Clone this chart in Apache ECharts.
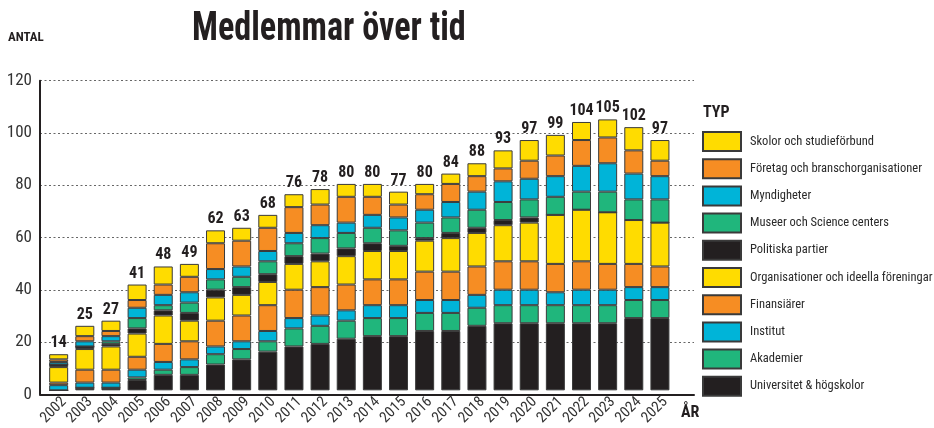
<!DOCTYPE html>
<html>
<head>
<meta charset="utf-8">
<script src="https://cdn.jsdelivr.net/npm/echarts@6/dist/echarts.min.js"></script>
<style>html,body{margin:0;padding:0;background:#fff;}#c{width:934px;height:428px;}</style>
</head>
<body>
<div id="c"></div>
<script>
const years = ['2002','2003','2004','2005','2006','2007','2008','2009','2010','2011','2012','2013','2014','2015','2016','2017','2018','2019','2020','2021','2022','2023','2024','2025'];
const totals = [14,25,27,41,48,49,62,63,68,76,78,80,80,77,80,84,88,93,97,99,104,105,102,97];
const universitet = [0,1,1,4,6,6,10,12,15,17,18,20,21,21,23,23,25,26,26,26,26,26,28,28];
const akademier = [0,0,0,1,2,3,4,4,4,7,7,7,7,7,7,7,7,7,7,7,7,7,7,7];
const institut = [2,2,2,3,3,3,3,3,4,4,4,4,5,5,5,5,5,6,6,5,6,6,5,5];
const finansiarer = [1,5,5,5,7,7,10,10,10,11,11,10,10,10,11,11,11,11,11,11,11,10,9,8];
const organisationer = [6,8,9,9,11,8,9,8,9,10,10,11,11,11,12,13,13,14,15,19,20,20,17,17];
const politiska = [1,1,1,2,2,3,3,3,3,3,3,3,3,2,1,2,2,2,2,0,0,0,0,0];
const museer = [0,0,1,4,2,4,4,4,5,5,6,6,6,6,6,6,7,7,7,7,7,8,8,9];
const myndigheter = [1,2,2,4,4,4,4,4,4,4,5,4,5,5,5,6,7,8,8,8,10,11,10,9];
const foretag = [1,2,2,3,4,6,10,10,9,10,8,10,7,5,6,7,6,5,7,8,10,10,9,6];
const skolor = [2,4,4,6,7,5,5,5,5,5,6,5,5,5,4,4,5,7,8,8,7,7,9,8];
const yTicks = [0,20,40,60,80,100,120];

const FONT = "Roboto, 'Open Sans', sans-serif";
const ST = 'condensed'; // font-stretch keyword passed through the CSS font shorthand
const INK = '#231F20';
const C = {yellow:'#FFDC00', orange:'#F68D23', blue:'#00B4D8', green:'#20B67C', black:'#231F20'};

const stackDefs = [
  ['Universitet & högskolor', universitet, C.black],
  ['Akademier', akademier, C.green],
  ['Institut', institut, C.blue],
  ['Finansiärer', finansiarer, C.orange],
  ['Organisationer och ideella föreningar', organisationer, C.yellow],
  ['Politiska partier', politiska, C.black],
  ['Museer och Science centers', museer, C.green],
  ['Myndigheter', myndigheter, C.blue],
  ['Företag och branschorganisationer', foretag, C.orange],
  ['Skolor och studieförbund', skolor, C.yellow]
];

const series = stackDefs.map(function(d, i){
  const s = {
    name: d[0], type: 'bar', stack: 'tot', xAxisIndex: 1, yAxisIndex: 1,
    data: d[1], barWidth: 19,
    itemStyle: {color: d[2], borderColor: '#3a3a3a', borderWidth: 1},
    emphasis: {disabled: true}
  };
  if (i === stackDefs.length - 1) {
    s.label = {show: true, position: 'top', distance: 3,
      formatter: function(p){ return totals[p.dataIndex]; },
      fontFamily: FONT, fontStyle: ST, fontWeight: 'bold', fontSize: 16, color: INK};
  }
  return s;
});

const chart = echarts.init(document.getElementById('c'), null, {renderer: 'canvas'});
chart.setOption({
  animation: false,
  backgroundColor: '#fff',
  textStyle: {fontFamily: FONT, fontStyle: ST},
  graphic: [
    {type: 'text', left: 192, top: 10, scaleX: 0.855,
      style: {text: 'Medlemmar över tid', fontFamily: FONT, fontStyle: ST, fontWeight: 'bold', fontSize: 40, fill: INK}},
    {type: 'text', left: 8, top: 31,
      style: {text: 'ANTAL', fontFamily: FONT, fontStyle: ST, fontWeight: 'bold', fontSize: 13, fill: INK}},
    {type: 'text', left: 703, top: 105,
      style: {text: 'TYP', fontFamily: FONT, fontStyle: ST, fontWeight: 'bold', fontSize: 16, fill: INK}},
    {type: 'text', left: 681, top: 405,
      style: {text: 'ÅR', fontFamily: FONT, fontStyle: ST, fontWeight: 'bold', fontSize: 16, fill: INK}}
  ],
  legend: {
    orient: 'vertical', left: 702, top: 131, padding: 0,
    icon: 'rect',
    itemWidth: 38, itemHeight: 19, itemGap: 6.2,
    data: stackDefs.map(function(d){return d[0];}).reverse(),
    textStyle: {fontFamily: FONT, fontStyle: ST, fontSize: 12.5, color: '#2a2a2a', padding: [0,0,0,4]},
    selectedMode: false
  },
  grid: [
    {left: 40, right: 240, top: 80.7, bottom: 33.7},
    {left: 45.6, right: 261, top: 80.7, bottom: 33.7}
  ],
  xAxis: [
    {gridIndex: 0, type: 'value', min: 0, max: 1, axisLine: {show: true, lineStyle: {color: INK, width: 2}}, axisTick: {show: false}, axisLabel: {show: false}, splitLine: {show: false}},
    {gridIndex: 1, type: 'category', data: years, axisLine: {show: false}, axisTick: {show: false},
      axisLabel: {rotate: 45, margin: 4, verticalAlign: 'top', padding: [0, 0, 0, 0], fontFamily: FONT, fontStyle: ST, fontSize: 15, color: '#333', interval: 0}}
  ],
  yAxis: [
    {gridIndex: 0, type: 'value', min: yTicks[0], max: yTicks[yTicks.length-1], interval: 20,
      axisLine: {show: true, lineStyle: {color: INK, width: 2}}, axisTick: {show: false},
      axisLabel: {fontFamily: FONT, fontStyle: ST, fontSize: 17, color: '#333', margin: 8},
      splitLine: {show: true, lineStyle: {color: '#666', width: 1.2, type: [2, 2.5]}}},
    {gridIndex: 1, type: 'value', min: 0, max: 120, show: false, splitLine: {show: false}}
  ],
  series: series
});
</script>
</body>
</html>
